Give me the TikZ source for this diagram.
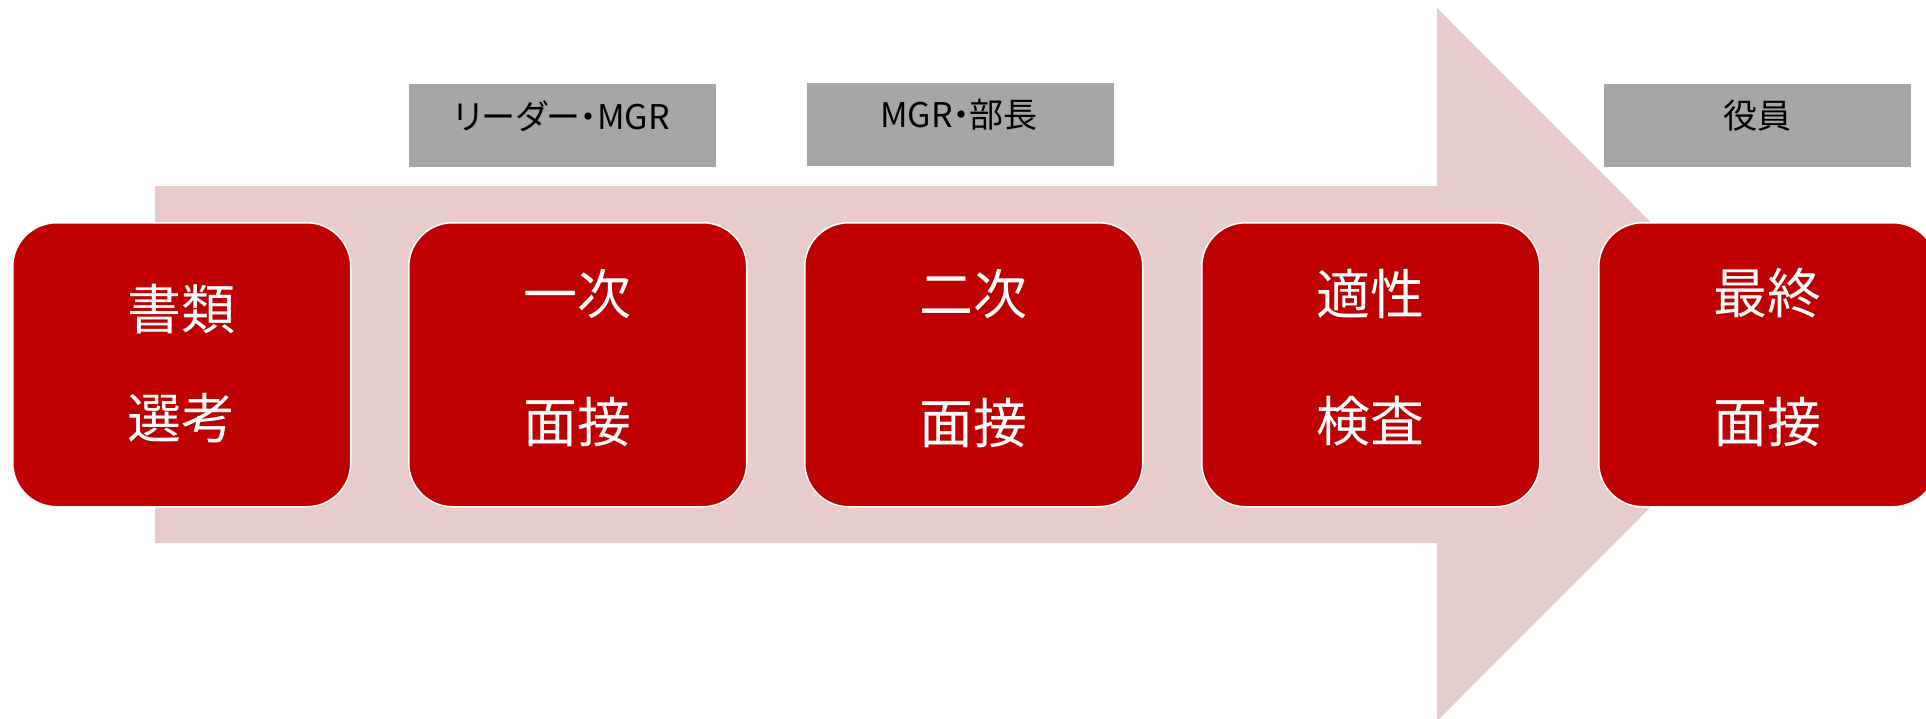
\documentclass[tikz,border=0pt]{standalone}
\usepackage{fontspec}
\newfontfamily\jp{Noto Sans CJK JP}
\newfontfamily\jpp[RawFeature=+palt]{Noto Sans CJK JP}
\definecolor{arrowpink}{RGB}{232,204,204}
\definecolor{boxred}{RGB}{190,0,0}
\definecolor{tagray}{RGB}{166,166,166}
\tikzset{
  stagebox/.style={draw=white, line width=1.5pt, fill=boxred, rounded corners=44pt,
    minimum width=338pt, minimum height=284pt, anchor=north west, inner sep=0pt},
  stagetext/.style={text=white, font=\jp\fontsize{54}{60}\selectfont, inner sep=0pt},
  tagbox/.style={fill=tagray, minimum width=307pt, minimum height=83pt, anchor=north west, inner sep=0pt},
  tagtext/.style={text=black, font=\jpp\fontsize{34}{40}\selectfont, inner sep=0pt}
}
\begin{document}
\begin{tikzpicture}[x=1pt,y=-1pt]
\useasboundingbox (0,0) rectangle (1926,718);
\clip (0,0) rectangle (1926,718);
% big arrow
\fill[arrowpink] (155,186) -- (1437,186) -- (1437,8) -- (1793,364.5) -- (1437,721) -- (1437,543) -- (155,543) -- cycle;
% tag boxes
\node[tagbox] (t1) at (409,84) {};
\node[tagtext] (t1l) at (562,116) {リーダー・MGR};
\node[tagbox] (t2) at (807,83) {};
\node[tagtext] (t2l) at (959,115) {MGR・部長};
\node[tagbox] (t4) at (1604,84) {};
\node[tagtext] (t4l) at (1757,116) {役員};
% stage boxes
\node[stagebox] (b1) at (12,222) {};
\node[stagebox] (b2) at (408,222) {};
\node[stagebox] (b3) at (804,222) {};
\node[stagebox] (b4) at (1201,222) {};
\node[stagebox] (b5) at (1598,222) {};
% stage texts
\node[stagetext] (b1a) at (181,309) {書類};
\node[stagetext] (b1b) at (181,418) {選考};
\node[stagetext] (b2a) at (577,294) {一次};
\node[stagetext] (b2b) at (577,422) {面接};
\node[stagetext] (b3a) at (973,294) {二次};
\node[stagetext] (b3b) at (973,423) {面接};
\node[stagetext] (b4a) at (1370,294) {適性};
\node[stagetext] (b4b) at (1370,421) {検査};
\node[stagetext] (b5a) at (1767,293) {最終};
\node[stagetext] (b5b) at (1767,422) {面接};
\end{tikzpicture}
\end{document}
